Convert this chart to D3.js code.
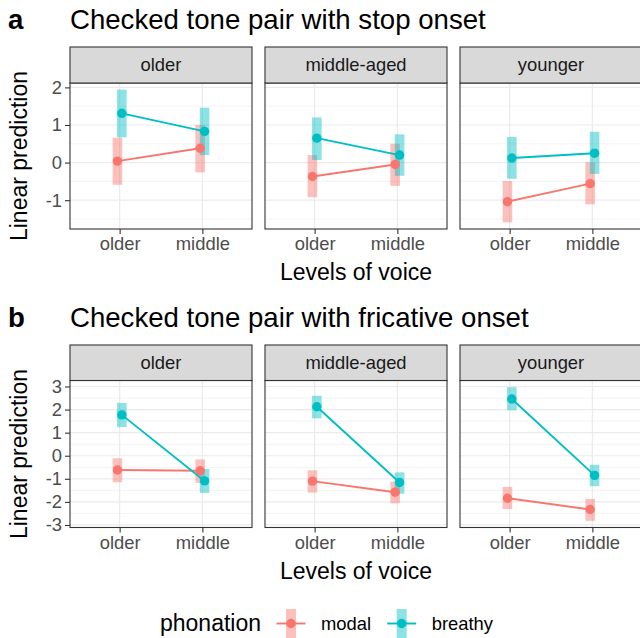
<!DOCTYPE html>
<html>
<head>
<meta charset="utf-8">
<script src="https://cdn.jsdelivr.net/npm/d3@7"></script>
<style>
  html, body { margin: 0; padding: 0; background: #fff; }
  svg { display: block; font-family: "Liberation Sans", Arial, sans-serif; }
</style>
</head>
<body>
<svg id="chart" width="640" height="638"></svg>
<script>
// ---------------- DATA ----------------
const ageGroups = ["older", "middle-aged", "younger"];
const voiceLevels = ["older", "middle"];
const phonations = ["modal", "breathy"];

// Panel a: stop onset  (per age group: [older voice, middle voice])
const stopModalFit   = [[0.04, 0.38], [-0.37, -0.05], [-1.04, -0.56]];
const stopModalLow   = [[-0.59, -0.26], [-0.92, -0.62], [-1.59, -1.11]];
const stopModalHigh  = [[0.66, 1.00], [0.20, 0.50], [-0.49, 0.01]];
const stopBreathyFit  = [[1.31, 0.83], [0.65, 0.20], [0.12, 0.25]];
const stopBreathyLow  = [[0.67, 0.20], [0.07, -0.35], [-0.43, -0.30]];
const stopBreathyHigh = [[1.94, 1.46], [1.20, 0.75], [0.68, 0.82]];
const stopTicks = [-1, 0, 1, 2];

// Panel b: fricative onset
const fricModalFit   = [[-0.62, -0.65], [-1.10, -1.58], [-1.84, -2.33]];
const fricModalLow   = [[-1.15, -1.18], [-1.60, -2.06], [-2.31, -2.82]];
const fricModalHigh  = [[-0.11, -0.16], [-0.63, -1.12], [-1.35, -1.87]];
const fricBreathyFit  = [[1.77, -1.09], [2.12, -1.16], [2.46, -0.85]];
const fricBreathyLow  = [[1.24, -1.61], [1.62, -1.65], [1.97, -1.32]];
const fricBreathyHigh = [[2.29, -0.57], [2.60, -0.72], [2.97, -0.39]];
const fricTicks = [-3, -2, -1, 0, 1, 2, 3];

const panelLetters = ["a", "b"];
const panelTitles = ["Checked tone pair with stop onset", "Checked tone pair with fricative onset"];
const xTitle = "Levels of voice";
const yTitle = "Linear prediction";
const legendTitle = "phonation";

// ---------------- STYLE / LAYOUT ----------------
const colors = { modal: "#F8766D", breathy: "#00BFC4" };
const FONT_BASE = 23;
const LINE_W = 1.9;
const PT_R = 4.7;
const svg = d3.select("#chart");

const panelLefts = [70, 265, 460];
const panelW = 182;

function buildRows(modalFit, modalLow, modalHigh, breathyFit, breathyLow, breathyHigh) {
  const rows = [];
  ageGroups.forEach((age, ai) => {
    voiceLevels.forEach((v, vi) => {
      rows.push({ age, voice: v, phon: "modal", fit: modalFit[ai][vi], lo: modalLow[ai][vi], hi: modalHigh[ai][vi] });
      rows.push({ age, voice: v, phon: "breathy", fit: breathyFit[ai][vi], lo: breathyLow[ai][vi], hi: breathyHigh[ai][vi] });
    });
  });
  return rows;
}

const rowsDefs = [
  { rows: buildRows(stopModalFit, stopModalLow, stopModalHigh, stopBreathyFit, stopBreathyLow, stopBreathyHigh),
    ticks: stopTicks, titleY: 29, stripTop: 47, panelTop: 83, panelBottom: 229 },
  { rows: buildRows(fricModalFit, fricModalLow, fricModalHigh, fricBreathyFit, fricBreathyLow, fricBreathyHigh),
    ticks: fricTicks, titleY: 327, stripTop: 345, panelTop: 380.5, panelBottom: 527.5 }
];

const x = d3.scalePoint().domain(voiceLevels).range([0, panelW]).padding(0.6);
const dodge = d3.scalePoint().domain(phonations).range([-2.2, 2.2]);

rowsDefs.forEach((def, ri) => {
  const rows = def.rows;
  const ext = [d3.min(rows, d => d.lo), d3.max(rows, d => d.hi)];
  const pad = (ext[1] - ext[0]) * 0.05;
  const y = d3.scaleLinear().domain([ext[0] - pad, ext[1] + pad]).range([def.panelBottom, def.panelTop]);
  const minor = [];
  const step = def.ticks[1] - def.ticks[0];
  for (let t = def.ticks[0] - step / 2; t <= def.ticks[def.ticks.length - 1] + step / 2 + 1e-9; t += step) {
    const [a, b] = y.domain();
    if (t >= a && t <= b) minor.push(t);
  }

  // Letter + title
  svg.append("text").attr("x", 8).attr("y", def.titleY)
    .attr("font-size", FONT_BASE * 1.2).attr("font-weight", "bold").attr("fill", "#000")
    .text(panelLetters[ri]);
  svg.append("text").attr("x", panelLefts[0]).attr("y", def.titleY)
    .attr("font-size", FONT_BASE * 1.2).attr("fill", "#000")
    .text(panelTitles[ri]);

  ageGroups.forEach((age, ai) => {
    const g = svg.append("g").attr("transform", `translate(${panelLefts[ai]},0)`);
    // panel background
    g.append("rect").attr("x", 0).attr("y", def.panelTop).attr("width", panelW)
      .attr("height", def.panelBottom - def.panelTop).attr("fill", "#fff");
    // minor grid
    g.selectAll(".minor").data(minor).enter().append("line")
      .attr("x1", 0).attr("x2", panelW).attr("y1", d => y(d)).attr("y2", d => y(d))
      .attr("stroke", "#ebebeb").attr("stroke-width", 0.6);
    // major grid
    g.selectAll(".major").data(def.ticks).enter().append("line")
      .attr("x1", 0).attr("x2", panelW).attr("y1", d => y(d)).attr("y2", d => y(d))
      .attr("stroke", "#ebebeb").attr("stroke-width", 1.2);
    g.selectAll(".vmajor").data(voiceLevels).enter().append("line")
      .attr("x1", d => x(d)).attr("x2", d => x(d)).attr("y1", def.panelTop).attr("y2", def.panelBottom)
      .attr("stroke", "#ebebeb").attr("stroke-width", 1.2);

    const sub = rows.filter(r => r.age === age);
    // CI bars
    g.selectAll(".ci").data(sub).enter().append("rect")
      .attr("x", d => x(d.voice) + dodge(d.phon) - 4.8)
      .attr("width", 9.6)
      .attr("y", d => y(d.hi))
      .attr("height", d => y(d.lo) - y(d.hi))
      .attr("fill", d => colors[d.phon]).attr("fill-opacity", 0.45);
    // lines
    phonations.forEach(p => {
      const pts = sub.filter(r => r.phon === p);
      g.append("path")
        .attr("d", d3.line().x(d => x(d.voice) + dodge(d.phon)).y(d => y(d.fit))(pts))
        .attr("fill", "none").attr("stroke", colors[p]).attr("stroke-width", LINE_W);
    });
    // points
    g.selectAll(".pt").data(sub).enter().append("circle")
      .attr("cx", d => x(d.voice) + dodge(d.phon)).attr("cy", d => y(d.fit)).attr("r", PT_R)
      .attr("fill", d => colors[d.phon]);

    // panel border
    g.append("rect").attr("x", 0).attr("y", def.panelTop).attr("width", panelW)
      .attr("height", def.panelBottom - def.panelTop).attr("fill", "none")
      .attr("stroke", "#333").attr("stroke-width", 1.1);
    // strip
    g.append("rect").attr("x", 0).attr("y", def.stripTop).attr("width", panelW)
      .attr("height", def.panelTop - def.stripTop).attr("fill", "#d9d9d9")
      .attr("stroke", "#333").attr("stroke-width", 1.1);
    g.append("text").attr("x", panelW / 2).attr("y", (def.stripTop + def.panelTop) / 2)
      .attr("dy", "0.35em").attr("text-anchor", "middle")
      .attr("font-size", FONT_BASE * 0.8).attr("fill", "#1a1a1a").text(age);

    // x axis
    const xa = g.append("g").attr("transform", `translate(0,${def.panelBottom})`)
      .call(d3.axisBottom(x).tickSize(5).tickPadding(3));
    xa.select(".domain").remove();
    xa.selectAll(".tick line").attr("stroke", "#333").attr("stroke-width", 1.1);
    xa.selectAll(".tick text").attr("fill", "#4d4d4d").attr("font-size", FONT_BASE * 0.8)
      .attr("font-family", "Liberation Sans, Arial, sans-serif");

    if (ai === 0) {
      const ya = g.append("g").call(d3.axisLeft(y).tickValues(def.ticks).tickSize(5).tickPadding(3).tickFormat(d3.format("d")));
      ya.select(".domain").remove();
      ya.selectAll(".tick line").attr("stroke", "#333").attr("stroke-width", 1.1);
      ya.selectAll(".tick text").attr("fill", "#4d4d4d").attr("font-size", FONT_BASE * 0.8)
        .attr("font-family", "Liberation Sans, Arial, sans-serif").text(d => d < 0 ? "-" + Math.abs(d) : d);
    }
  });

  // axis titles
  const cx = (panelLefts[0] + panelLefts[2] + panelW) / 2;
  svg.append("text").attr("x", cx).attr("y", def.panelBottom + 51)
    .attr("text-anchor", "middle").attr("font-size", FONT_BASE).attr("fill", "#000").text(xTitle);
  const cy = (def.panelTop + def.panelBottom) / 2;
  svg.append("text").attr("transform", `translate(27,${cy}) rotate(-90)`)
    .attr("text-anchor", "middle").attr("font-size", FONT_BASE).attr("fill", "#000").text(yTitle);
});

// ---------------- LEGEND ----------------
const leg = svg.append("g");
leg.append("text").attr("x", 160).attr("y", 631).attr("font-size", FONT_BASE).attr("fill", "#000").text(legendTitle);
const legendKeys = [{ p: "modal", cx: 291, tx: 321 }, { p: "breathy", cx: 401.7, tx: 431.7 }];
legendKeys.forEach(k => {
  leg.append("rect").attr("x", k.cx - 5).attr("y", 609).attr("width", 10).attr("height", 30)
    .attr("fill", colors[k.p]).attr("fill-opacity", 0.45);
  leg.append("line").attr("x1", k.cx - 14.5).attr("x2", k.cx + 14.5).attr("y1", 623.5).attr("y2", 623.5)
    .attr("stroke", colors[k.p]).attr("stroke-width", LINE_W);
  leg.append("circle").attr("cx", k.cx).attr("cy", 623.5).attr("r", PT_R).attr("fill", colors[k.p]);
  leg.append("text").attr("x", k.tx).attr("y", 630).attr("font-size", FONT_BASE * 0.8).attr("fill", "#000").text(k.p);
});
</script>
</body>
</html>
